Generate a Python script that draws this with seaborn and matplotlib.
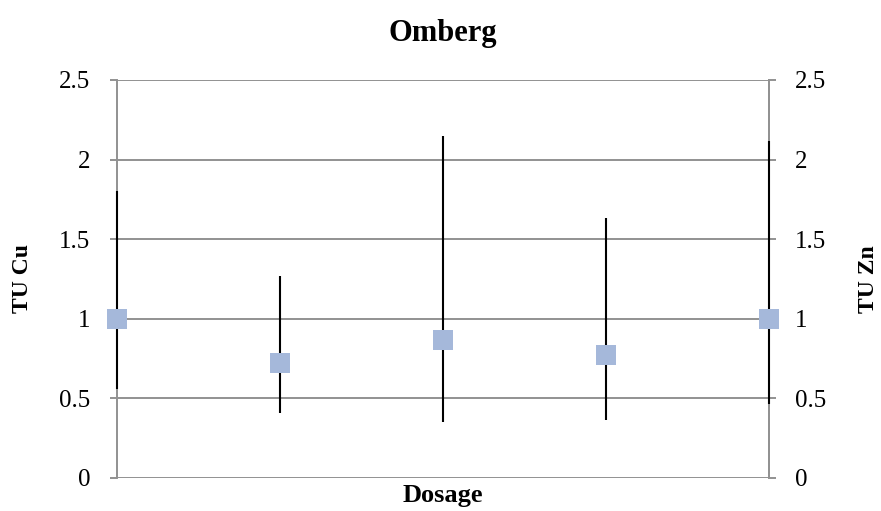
import matplotlib
matplotlib.use("Agg")
import matplotlib.pyplot as plt
import seaborn as sns
import pandas as pd

positions = [0, 1, 2, 3, 4]
tu_values = [1.00, 0.72, 0.865, 0.77, 1.00]
err_low = [0.557, 0.408, 0.351, 0.362, 0.467]
err_high = [1.804, 1.267, 2.148, 1.630, 2.118]
y_ticks = [0, 0.5, 1, 1.5, 2, 2.5]
y_tick_labels = ["0", "0.5", "1", "1.5", "2", "2.5"]

sns.set_theme(style="white")
plt.rcParams['font.family'] = ['Liberation Serif', 'DejaVu Serif']
plt.rcParams['text.color'] = 'black'
plt.rcParams['axes.labelcolor'] = 'black'
plt.rcParams['ytick.labelcolor'] = 'black'

df = pd.DataFrame({"pos": positions, "tu": tu_values})

fig = plt.figure(figsize=(8.81, 5.11), dpi=100)
ax = fig.add_axes([0.1328, 0.0646, 0.7401, 0.7789])
ax2 = ax.twinx()
ax.set_zorder(ax2.get_zorder() + 1)
ax.patch.set_visible(False)

grid_col = "#929292"
for t in y_ticks:
    ax.axhline(t, color=grid_col, lw=1.4, zorder=1)

lower = [v - lo for v, lo in zip(tu_values, err_low)]
upper = [hi - v for v, hi in zip(tu_values, err_high)]
ax.errorbar(positions, tu_values, yerr=[lower, upper], fmt="none",
            ecolor="black", elinewidth=1.5, capsize=0, zorder=3, clip_on=False)
sns.scatterplot(data=df, x="pos", y="tu", marker="s", s=207, color="#a5b8da",
                edgecolor="none", linewidth=0, ax=ax, zorder=4, clip_on=False)

ax.set_xlim(0, 4)
ax.set_ylim(0, 2.5)
ax.set_xticks([])
ax.set_yticks(y_ticks)
ax.set_yticklabels(y_tick_labels, fontsize=18, color="black")
ax.tick_params(axis="y", length=5, color=grid_col, width=1.4, left=True, pad=14.4)
for s in ["top", "bottom"]:
    ax.spines[s].set_visible(False)
for s in ["left", "right"]:
    ax.spines[s].set_color(grid_col)
    ax.spines[s].set_linewidth(1.4)

ax.set_xlabel("Dosage", fontsize=19, fontweight="bold", color="black")
ax.xaxis.set_label_coords(0.5, -0.016)
ax.set_ylabel("TU Cu", fontsize=17, fontweight="bold", color="black")
ax.yaxis.set_label_coords(-0.1288, 0.5)
ax.set_title("Omberg", fontsize=22, fontweight="bold", pad=0, y=1.098, color="black")

ax2.set_ylim(0, 2.5)
ax2.set_yticks(y_ticks)
ax2.set_yticklabels(y_tick_labels, fontsize=18, color="black")
ax2.tick_params(axis="y", length=5, color=grid_col, width=1.4, right=True, pad=13.7)
for s in ["top", "bottom", "left"]:
    ax2.spines[s].set_visible(False)
ax2.spines["right"].set_color(grid_col)
ax2.spines["right"].set_linewidth(1.4)
ax2.set_ylabel("TU Zn", fontsize=17, fontweight="bold", color="black")
ax2.yaxis.set_label_coords(1.1365, 0.5)

fig.savefig("out.png", dpi=100)
